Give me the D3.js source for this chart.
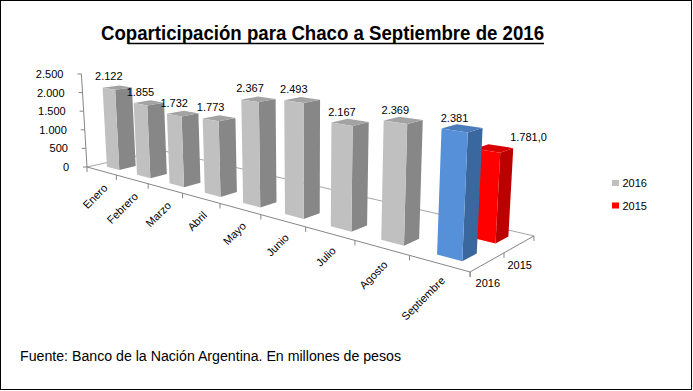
<!DOCTYPE html>
<html>
<head>
<meta charset="utf-8">
<script src="https://cdn.jsdelivr.net/npm/d3@7"></script>
<style>
  body { margin: 0; background: #fff; }
  text { font-family: "Liberation Sans", Arial, sans-serif; }
</style>
</head>
<body>
<svg id="chart" width="693" height="391"></svg>
<script>
// data
const months = ["Enero", "Febrero", "Marzo", "Abril", "Mayo", "Junio", "Julio", "Agosto", "Septiembre"];
const seriesNames = ["2016", "2015"];
const values2016 = [2122, 1855, 1732, 1773, 2367, 2493, 2167, 2369, 2381];
const values2015 = [null, null, null, null, null, null, null, null, 1781.0];
const yTicks = [0, 500, 1000, 1500, 2000, 2500];
const highlightMonth = "Septiembre";

const es = d3.formatLocale({decimal: ",", thousands: ".", grouping: [3], currency: ["$", ""]});
const fmt0 = es.format(",.0f");
const fmt1 = es.format(",.1f");

const svg = d3.select("#chart");

// frame
svg.append("rect")
    .attr("x", 0.5).attr("y", 0.5)
    .attr("width", 691).attr("height", 389)
    .attr("fill", "#fff").attr("stroke", "#000");

// world scales: categories along X (0..9), series along depth Z (0..2)
const x = d3.scaleBand().domain(months).range([0, months.length])
    .paddingInner(0.58).paddingOuter(0.29);
const z = d3.scaleBand().domain(seriesNames).range([0, seriesNames.length])
    .paddingInner(0.58).paddingOuter(0.29);
const h = d3.scaleLinear().domain([0, 2500]).range([0, 93.2]);

// perspective: floor homography + vertical vanishing point
const P = {a: 25.06, b: 44.3, c: 87, r1: -0.03724, r2: 0.0432, v0: -41.2, v1: 208.2};
const VP = [309, 3849];
function project(X, val, Z) {
    const D = 1 + P.r1 * X + P.r2 * Z;
    const u = (P.a * X + P.b * Z + P.c) / D;
    const v = P.v0 + P.v1 / D;
    const len = h(val) / D;
    const dx = VP[0] - u, dy = VP[1] - v, n = Math.hypot(dx, dy);
    return [u - dx / n * len, v - dy / n * len];
}
const line = d3.line();
const nX = months.length, nZ = seriesNames.length;

// floor
const floor = svg.append("g").attr("fill", "none");
floor.append("path")
    .attr("d", line([project(0, 0, 0), project(0, 0, nZ), project(nX, 0, nZ)]))
    .attr("stroke", "#a6a6a6");
floor.append("path")
    .attr("d", line([project(0, 0, 0), project(nX, 0, 0), project(nX, 0, nZ)]))
    .attr("stroke", "#868686");

// value axis
const yAxis = svg.append("g");
yAxis.append("path")
    .attr("d", line([project(0, 0, 0), project(0, 2500, 0)]))
    .attr("stroke", "#868686").attr("fill", "none");
yTicks.forEach(t => {
    const p = project(0, t, 0);
    yAxis.append("line")
        .attr("x1", p[0]).attr("x2", p[0] - 4)
        .attr("y1", p[1]).attr("y2", p[1])
        .attr("stroke", "#868686");
    yAxis.append("text")
        .attr("x", p[0] - 18).attr("y", p[1])
        .attr("text-anchor", "end")
        .attr("dominant-baseline", "central")
        .attr("font-size", "11px")
        .text(fmt0(t));
});

// category ticks + labels
d3.range(nX + 1).forEach(k => {
    const p = project(k, 0, 0);
    svg.append("line")
        .attr("x1", p[0]).attr("x2", p[0])
        .attr("y1", p[1]).attr("y2", p[1] + 5)
        .attr("stroke", "#868686");
});
months.forEach(m => {
    const p = project(x(m) + x.bandwidth() / 2, 0, 0);
    svg.append("text")
        .attr("transform", `translate(${p[0] + 4},${p[1] + 15}) rotate(-45)`)
        .attr("text-anchor", "end")
        .attr("dominant-baseline", "central")
        .attr("font-size", "11px")
        .text(m);
});

// depth ticks + labels
d3.range(nZ + 1).forEach(k => {
    const p = project(nX, 0, k);
    svg.append("line")
        .attr("x1", p[0]).attr("x2", p[0])
        .attr("y1", p[1]).attr("y2", p[1] + 5)
        .attr("stroke", "#868686");
});
seriesNames.forEach(s => {
    const p = project(nX, 0, z(s) + z.bandwidth() / 2);
    svg.append("text")
        .attr("x", p[0] - 12).attr("y", p[1] + 21)
        .attr("dominant-baseline", "central")
        .attr("font-size", "11px")
        .text(s);
});

// bar colours: [front, side, top]
const shades = {
    "2016": ["#c0c0c0", "#878787", "#a3a3a3"],
    "2015": ["#ff0000", "#bb0000", "#d80000"],
    highlight: ["#5690d8", "#3b679f", "#4a7bbb"]
};

const bars = [];
// back row first, then front row; left to right
[["2015", values2015], ["2016", values2016]].forEach(([s, vals]) => {
    vals.forEach((v, i) => {
        if (v == null) return;
        bars.push({series: s, month: months[i], value: v});
    });
});

const barG = svg.append("g");
bars.forEach(d => {
    const x0 = x(d.month), x1 = x0 + x.bandwidth();
    const z0 = z(d.series), z1 = z0 + z.bandwidth();
    const c = (d.series === "2016" && d.month === highlightMonth) ? shades.highlight : shades[d.series];
    const v = d.value;
    const front = [project(x0, 0, z0), project(x1, 0, z0), project(x1, v, z0), project(x0, v, z0)];
    const side = [project(x1, 0, z0), project(x1, 0, z1), project(x1, v, z1), project(x1, v, z0)];
    const top = [project(x0, v, z0), project(x1, v, z0), project(x1, v, z1), project(x0, v, z1)];
    barG.append("path").attr("d", line(side) + "Z").attr("fill", c[1]);
    barG.append("path").attr("d", line(top) + "Z").attr("fill", c[2]);
    barG.append("path").attr("d", line(front) + "Z").attr("fill", c[0]);
});

// data labels
bars.forEach(d => {
    const p = project(x(d.month) + x.bandwidth() / 2, d.value, z(d.series));
    const is15 = d.series === "2015";
    svg.append("text")
        .attr("x", p[0] + (is15 ? 41 : 0))
        .attr("y", p[1] - (is15 ? 14 : 12.5))
        .attr("text-anchor", "middle")
        .attr("dominant-baseline", "central")
        .attr("font-size", "11px")
        .text(is15 ? fmt1(d.value) : fmt0(d.value));
});

// legend
const legend = svg.append("g").attr("transform", "translate(612,180)");
[["2016", shades["2016"][0]], ["2015", shades["2015"][0]]].forEach(([s, col], i) => {
    legend.append("rect")
        .attr("x", 0).attr("y", i * 22.5)
        .attr("width", 7).attr("height", 6)
        .attr("fill", col);
    legend.append("text")
        .attr("x", 10.5).attr("y", i * 22.5 + 3)
        .attr("dominant-baseline", "central")
        .attr("font-size", "11px")
        .text(s);
});

// title
svg.append("text")
    .attr("x", 101).attr("y", 40)
    .attr("font-family", "Lato, sans-serif")
    .attr("font-weight", "bold")
    .attr("font-size", "20px")
    .attr("textLength", 443)
    .attr("lengthAdjust", "spacingAndGlyphs")
    .text("Coparticipación para Chaco a Septiembre de 2016");
svg.append("line")
    .attr("x1", 128).attr("x2", 544)
    .attr("y1", 43.5).attr("y2", 43.5)
    .attr("stroke", "#000").attr("stroke-width", 1.3);

// source
svg.append("text")
    .attr("x", 20).attr("y", 361)
    .attr("font-size", "14px")
    .attr("textLength", 381)
    .attr("lengthAdjust", "spacingAndGlyphs")
    .text("Fuente: Banco de la Nación Argentina. En millones de pesos");
</script>
</body>
</html>
